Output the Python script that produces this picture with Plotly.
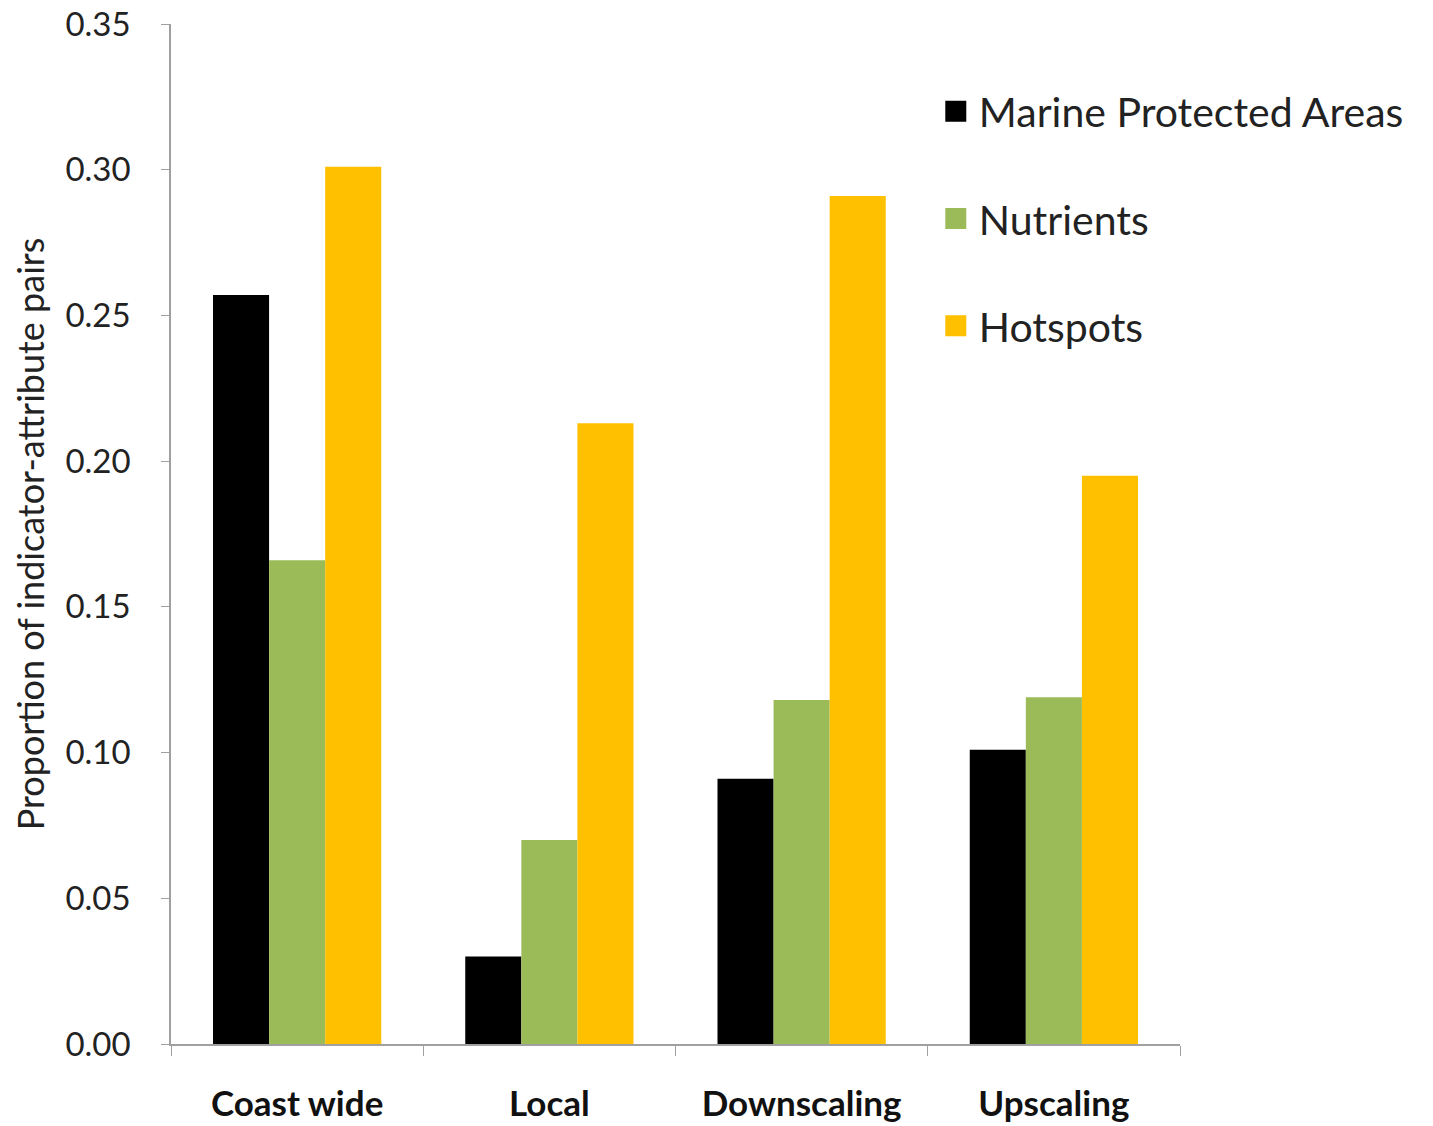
import plotly.graph_objects as go

# Scale categories and proportion of indicator-attribute pairs per driver
categories = ["Coast wide", "Local", "Downscaling", "Upscaling"]
mpa = [0.257, 0.030, 0.091, 0.101]
nutrients = [0.166, 0.070, 0.118, 0.119]
hotspots = [0.301, 0.213, 0.291, 0.195]

series_names = ["Marine Protected Areas", "Nutrients", "Hotspots"]
series_values = [mpa, nutrients, hotspots]
series_colors = ["#000000", "#9BBB59", "#FFC000"]

y_ticks = [0.00, 0.05, 0.10, 0.15, 0.20, 0.25, 0.30, 0.35]

FONT = "Lato"

fig = go.Figure()
for i, (name, vals, col) in enumerate(zip(series_names, series_values, series_colors)):
    fig.add_trace(go.Bar(x=categories, y=vals, name=name, marker_color=col,
                         marker_line_width=0, showlegend=False))
    # legend entry with a larger square swatch
    fig.add_trace(go.Scatter(x=[None], y=[None], mode="markers", name=name,
                             legendgroup=f"g{i}",
                             marker=dict(symbol="square", size=16, color=col,
                                         line=dict(color=col, width=5))))

fig.update_layout(
    width=1433, height=1126,
    margin=dict(l=171, r=253, t=24, b=82, autoexpand=False),
    paper_bgcolor="white", plot_bgcolor="white",
    barmode="group", bargap=0.333, bargroupgap=0,
    font=dict(family=FONT, color="#222222"),
    legend=dict(x=0.755, y=0.947, xanchor="left", yanchor="top",
                font=dict(size=41, family=FONT, color="#222222"),
                tracegroupgap=51, itemsizing="trace", itemwidth=36,
                bgcolor="rgba(0,0,0,0)"),
    xaxis=dict(
        type="category", tickson="boundaries", ticks="outside", ticklen=10,
        tickcolor="#A0A0A0", showline=True, linecolor="#A0A0A0", linewidth=1.5,
        tickfont=dict(size=35, family=FONT, weight="bold", color="#111111"),
        ticklabelstandoff=28, showgrid=False, automargin=False,
    ),
    yaxis=dict(
        range=[0, 0.35], tickvals=y_ticks, tickformat=".2f",
        ticks="outside", ticklen=8, tickcolor="#A0A0A0",
        showline=True, linecolor="#A0A0A0", linewidth=1.5,
        showgrid=False, zeroline=False, ticklabelstandoff=24, automargin=False,
        tickfont=dict(size=33, family=FONT, color="#222222"),
        title=dict(text="Proportion of indicator-attribute pairs",
                   font=dict(size=36, family=FONT, color="#222222"), standoff=10),
    ),
)

fig.write_html("out.html")
